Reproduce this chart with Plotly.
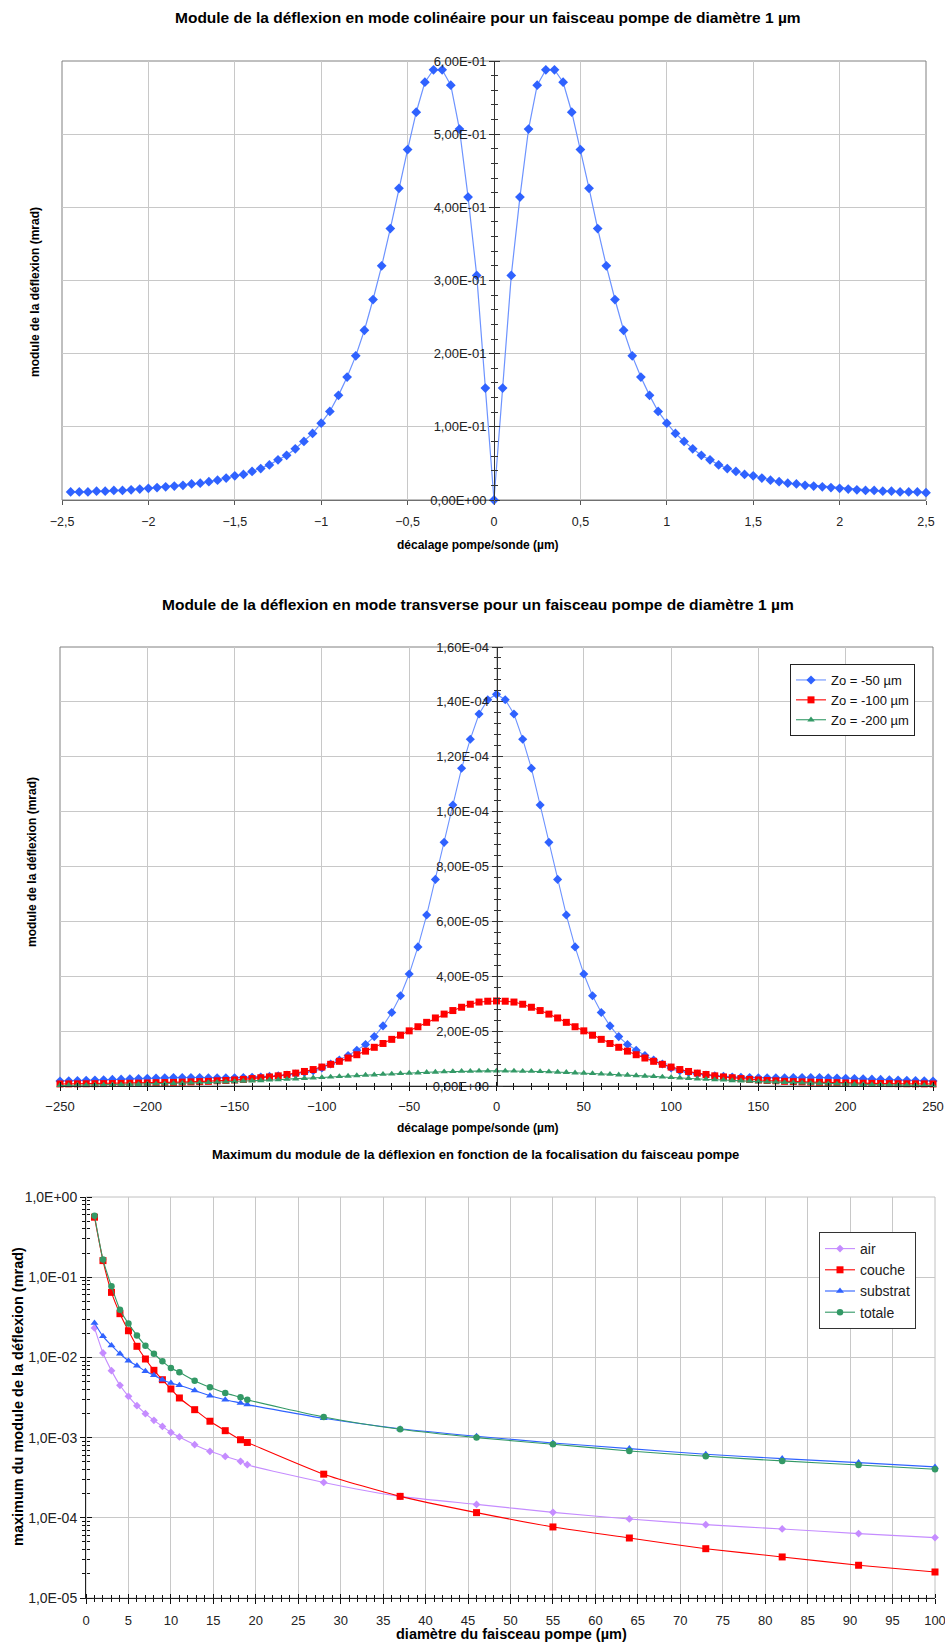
import plotly.graph_objects as go

W, H = 945, 1645


def px(x):
    return x / W


def py(y):
    return 1 - y / H


FONT = "Liberation Sans, Arial, Helvetica, sans-serif"

# ---------------- Chart 1 : colinear mode ----------------
X1 = [-2.45, -2.4, -2.35, -2.3, -2.25, -2.2, -2.15, -2.1, -2.05, -2.0,
      -1.95, -1.9, -1.85, -1.8, -1.75, -1.7, -1.65, -1.6, -1.55, -1.5,
      -1.45, -1.4, -1.35, -1.3, -1.25, -1.2, -1.15, -1.1, -1.05, -1.0,
      -0.95, -0.9, -0.85, -0.8, -0.75, -0.7, -0.65, -0.6, -0.55, -0.5,
      -0.45, -0.4, -0.35, -0.3, -0.25, -0.2, -0.15, -0.1, -0.05, 0.0,
      0.05, 0.1, 0.15, 0.2, 0.25, 0.3, 0.35, 0.4, 0.45, 0.5,
      0.55, 0.6, 0.65, 0.7, 0.75, 0.8, 0.85, 0.9, 0.95, 1.0,
      1.05, 1.1, 1.15, 1.2, 1.25, 1.3, 1.35, 1.4, 1.45, 1.5,
      1.55, 1.6, 1.65, 1.7, 1.75, 1.8, 1.85, 1.9, 1.95, 2.0,
      2.05, 2.1, 2.15, 2.2, 2.25, 2.3, 2.35, 2.4, 2.45, 2.5]
Y1 = [0.011, 0.011, 0.011, 0.012, 0.012, 0.013, 0.013, 0.014, 0.015, 0.016,
      0.017, 0.018, 0.019, 0.020, 0.022, 0.023, 0.025, 0.027, 0.030, 0.033,
      0.035, 0.039, 0.043, 0.048, 0.055, 0.061, 0.070, 0.080, 0.091, 0.105,
      0.121, 0.143, 0.168, 0.197, 0.232, 0.274, 0.320, 0.371, 0.426, 0.479,
      0.530, 0.571, 0.588, 0.588, 0.567, 0.507, 0.414, 0.307, 0.153, 0.0,
      0.153, 0.307, 0.414, 0.507, 0.567, 0.588, 0.588, 0.571, 0.530, 0.479,
      0.426, 0.371, 0.320, 0.274, 0.232, 0.197, 0.168, 0.143, 0.121, 0.105,
      0.091, 0.080, 0.070, 0.061, 0.055, 0.048, 0.043, 0.039, 0.035, 0.033,
      0.030, 0.027, 0.025, 0.023, 0.022, 0.020, 0.019, 0.018, 0.017, 0.016,
      0.015, 0.014, 0.013, 0.013, 0.012, 0.012, 0.011, 0.011, 0.011, 0.010]
X1_TICKS = [-2.5, -2, -1.5, -1, -0.5, 0, 0.5, 1, 1.5, 2, 2.5]
Y1_TICKS = [0, 0.1, 0.2, 0.3, 0.4, 0.5, 0.6]
Y1_TEXT = ["0,00E+00", "1,00E-01", "2,00E-01", "3,00E-01", "4,00E-01", "5,00E-01", "6,00E-01"]

# ---------------- Chart 2 : transverse mode (values in 1E-5 mrad) ----------------
X2 = [-250, -245, -240, -235, -230, -225, -220, -215, -210, -205,
      -200, -195, -190, -185, -180, -175, -170, -165, -160, -155,
      -150, -145, -140, -135, -130, -125, -120, -115, -110, -105,
      -100, -95, -90, -85, -80, -75, -70, -65, -60, -55,
      -50, -45, -40, -35, -30, -25, -20, -15, -10, -5, 0,
      5, 10, 15, 20, 25, 30, 35, 40, 45, 50,
      55, 60, 65, 70, 75, 80, 85, 90, 95, 100,
      105, 110, 115, 120, 125, 130, 135, 140, 145, 150,
      155, 160, 165, 170, 175, 180, 185, 190, 195, 200,
      205, 210, 215, 220, 225, 230, 235, 240, 245, 250]
ZO50 = [0.18, 0.19, 0.20, 0.21, 0.22, 0.23, 0.24, 0.25, 0.26, 0.27,
        0.28, 0.29, 0.30, 0.31, 0.31, 0.31, 0.31, 0.30, 0.30, 0.30,
        0.30, 0.31, 0.32, 0.33, 0.35, 0.37, 0.40, 0.44, 0.49, 0.56,
        0.66, 0.80, 0.95, 1.11, 1.30, 1.51, 1.80, 2.19, 2.68, 3.29,
        4.08, 5.07, 6.23, 7.53, 8.88, 10.24, 11.58, 12.64, 13.56, 14.08, 14.28,
        14.08, 13.56, 12.64, 11.58, 10.24, 8.88, 7.53, 6.23, 5.07, 4.08,
        3.29, 2.68, 2.19, 1.80, 1.51, 1.30, 1.11, 0.95, 0.80, 0.66,
        0.56, 0.49, 0.44, 0.40, 0.37, 0.35, 0.33, 0.32, 0.31, 0.30,
        0.30, 0.30, 0.30, 0.31, 0.31, 0.31, 0.31, 0.30, 0.29, 0.28,
        0.27, 0.26, 0.25, 0.24, 0.23, 0.22, 0.21, 0.20, 0.19, 0.18]
ZO100 = [0.075, 0.078, 0.08, 0.082, 0.085, 0.088, 0.09, 0.095, 0.10, 0.105,
         0.11, 0.12, 0.125, 0.13, 0.14, 0.15, 0.16, 0.17, 0.19, 0.20,
         0.22, 0.24, 0.27, 0.30, 0.33, 0.37, 0.42, 0.47, 0.53, 0.60,
         0.69, 0.79, 0.90, 1.02, 1.14, 1.27, 1.41, 1.55, 1.70, 1.85,
         2.01, 2.16, 2.32, 2.48, 2.62, 2.75, 2.87, 2.98, 3.06, 3.09, 3.10,
         3.09, 3.06, 2.98, 2.87, 2.75, 2.62, 2.48, 2.32, 2.16, 2.01,
         1.85, 1.70, 1.55, 1.41, 1.27, 1.14, 1.02, 0.90, 0.79, 0.69,
         0.60, 0.53, 0.47, 0.42, 0.37, 0.33, 0.30, 0.27, 0.24, 0.22,
         0.20, 0.19, 0.17, 0.16, 0.15, 0.14, 0.13, 0.125, 0.12, 0.11,
         0.105, 0.10, 0.095, 0.09, 0.088, 0.085, 0.082, 0.08, 0.078, 0.075]
ZO200 = [0.02, 0.025, 0.03, 0.03, 0.035, 0.04, 0.045, 0.05, 0.055, 0.06,
         0.07, 0.075, 0.08, 0.09, 0.10, 0.11, 0.12, 0.13, 0.14, 0.15,
         0.16, 0.18, 0.19, 0.20, 0.22, 0.23, 0.25, 0.26, 0.28, 0.30,
         0.31, 0.33, 0.35, 0.36, 0.38, 0.40, 0.41, 0.43, 0.44, 0.46,
         0.47, 0.48, 0.50, 0.51, 0.52, 0.53, 0.54, 0.54, 0.55, 0.55, 0.55,
         0.55, 0.55, 0.54, 0.54, 0.53, 0.52, 0.51, 0.50, 0.48, 0.47,
         0.46, 0.44, 0.43, 0.41, 0.40, 0.38, 0.36, 0.35, 0.33, 0.31,
         0.30, 0.28, 0.26, 0.25, 0.23, 0.22, 0.20, 0.19, 0.18, 0.16,
         0.15, 0.14, 0.13, 0.12, 0.11, 0.10, 0.09, 0.08, 0.075, 0.07,
         0.06, 0.055, 0.05, 0.045, 0.04, 0.035, 0.03, 0.03, 0.025, 0.02]
UNIT2 = 1e-5
X2_TICKS = [-250, -200, -150, -100, -50, 0, 50, 100, 150, 200, 250]
Y2_TICKS = [0, 2e-5, 4e-5, 6e-5, 8e-5, 1e-4, 1.2e-4, 1.4e-4, 1.6e-4]
Y2_TEXT = ["0,00E+00", "2,00E-05", "4,00E-05", "6,00E-05", "8,00E-05",
           "1,00E-04", "1,20E-04", "1,40E-04", "1,60E-04"]
NAMES2 = ["Zo = -50 µm", "Zo = -100 µm", "Zo = -200 µm"]

# ---------------- Chart 3 : maximum vs pump diameter ----------------
D3 = [1, 2, 3, 4, 5, 6, 7, 8, 9, 10, 11, 12.8, 14.6, 16.4, 18.2, 19,
      28, 37, 46, 55, 64, 73, 82, 91, 100]
AIR = [0.0233, 0.01135, 0.00684, 0.00449, 0.00327, 0.00250, 0.00199, 0.00164,
       0.00138, 0.00116, 0.00102, 0.000817, 0.000675, 0.000583, 0.000506,
       0.000459, 0.000276, 0.000185, 0.000147, 0.000117, 9.67e-5, 8.22e-5,
       7.26e-5, 6.35e-5, 5.66e-5]
COUCHE = [0.56, 0.161, 0.0647, 0.0351, 0.0215, 0.01375, 0.00955, 0.00690,
          0.00527, 0.00404, 0.00312, 0.00223, 0.00160, 0.00122, 0.00094,
          0.00087, 0.00035, 0.000185, 0.000116, 7.69e-5, 5.6e-5, 4.12e-5,
          3.25e-5, 2.56e-5, 2.11e-5]
SUBSTRAT = [0.0269, 0.0183, 0.0141, 0.0111, 0.0091, 0.00789, 0.00670, 0.00597,
            0.00527, 0.00480, 0.00449, 0.00388, 0.00333, 0.00297, 0.00270,
            0.00258, 0.00174, 0.00129, 0.00104, 0.000858, 0.000729, 0.000620,
            0.000547, 0.000488, 0.000431]
TOTALE = [0.585, 0.166, 0.0769, 0.0394, 0.0264, 0.0188, 0.0140, 0.0111,
          0.00893, 0.00738, 0.00652, 0.00513, 0.00424, 0.00360, 0.00318,
          0.00297, 0.00181, 0.00127, 0.00100, 0.000826, 0.000682, 0.000585,
          0.000512, 0.000456, 0.000403]
X3_TICKS = [0, 5, 10, 15, 20, 25, 30, 35, 40, 45, 50, 55, 60, 65, 70, 75, 80, 85, 90, 95, 100]
Y3_TICKS = [1e-5, 1e-4, 1e-3, 1e-2, 1e-1, 1]
Y3_TEXT = ["1,0E-05", "1,0E-04", "1,0E-03", "1,0E-02", "1,0E-01", "1,0E+00"]
Y3_MINOR = [m * 10 ** e for e in range(-5, 0) for m in range(2, 10)]

BLUE = "#2f62ff"
BLUE_LINE = "#6d93ff"
RED = "#ff0000"
GREEN = "#339966"
VIOLET = "#c58cff"
GRID = "#c8c8c8"
TICKC = "#333333"

# geometry (pixels)
C1 = dict(l=62, r=926, t=61, b=500)
C2 = dict(l=60, r=933, t=647, b=1086)
C3 = dict(l=86, r=935, t=1197, b=1598)

fig = go.Figure()

# chart 1 trace
fig.add_trace(go.Scatter(x=X1, y=Y1, mode="lines+markers", xaxis="x", yaxis="y",
                         line=dict(color=BLUE_LINE, width=1.2),
                         marker=dict(symbol="diamond", size=7.5, color=BLUE),
                         cliponaxis=False, showlegend=False, hoverinfo="skip"))

# chart 2 traces
for vals, name, col, lcol, sym, size in [(ZO50, NAMES2[0], BLUE, BLUE_LINE, "diamond", 7),
                                         (ZO100, NAMES2[1], RED, RED, "square", 7),
                                         (ZO200, NAMES2[2], GREEN, GREEN, "triangle-up", 6.5)]:
    fig.add_trace(go.Scatter(x=X2, y=[v * UNIT2 for v in vals], mode="lines+markers",
                             name=name, xaxis="x2", yaxis="y2", legend="legend",
                             line=dict(color=lcol, width=1.1),
                             marker=dict(symbol=sym, size=size, color=col),
                             cliponaxis=False, hoverinfo="skip"))

# chart 3 traces
for vals, name, col, sym, size in [(AIR, "air", VIOLET, "diamond", 6),
                                   (COUCHE, "couche", RED, "square", 7),
                                   (SUBSTRAT, "substrat", BLUE, "triangle-up", 7),
                                   (TOTALE, "totale", GREEN, "circle", 6.5)]:
    fig.add_trace(go.Scatter(x=D3, y=vals, mode="lines+markers", name=name,
                             xaxis="x3", yaxis="y3", legend="legend2",
                             line=dict(color=col, width=1.1, shape="spline", smoothing=0.6),
                             marker=dict(symbol=sym, size=size, color=col),
                             cliponaxis=False, hoverinfo="skip"))

# dummy traces binding the overlay tick axes
for xa, ya in [("x", "y4"), ("x2", "y5"), ("x4", "y2"), ("x3", "y6"), ("x5", "y3")]:
    fig.add_trace(go.Scatter(x=[None], y=[None], xaxis=xa, yaxis=ya, showlegend=False,
                             hoverinfo="skip", mode="markers"))

tick_font = lambda s: dict(family=FONT, size=s, color="#222222")

lay = dict(
    width=W, height=H, margin=dict(l=0, r=0, t=0, b=0, autoexpand=False),
    paper_bgcolor="white", plot_bgcolor="white",
    separators=", ", font=dict(family=FONT, color="#000000"),
)

# ---- chart 1 axes
c1mid = (C1["l"] + C1["r"]) / 2
lay["xaxis"] = dict(domain=[px(C1["l"]), px(C1["r"])], anchor="y", range=[-2.5, 2.5],
                    tickmode="array", tickvals=X1_TICKS, ticks="outside", ticklen=4,
                    tickcolor="#555555", showline=True, linecolor="#707070", linewidth=1,
                    showgrid=True, gridcolor=GRID, zeroline=False, tickfont=tick_font(12.5),
                    ticklabelstandoff=6, ticklabeloverflow="allow")
lay["yaxis"] = dict(domain=[py(C1["b"]), py(C1["t"])], anchor="free", position=px(c1mid),
                    range=[0, 0.6], tickmode="array", tickvals=Y1_TICKS, ticktext=Y1_TEXT,
                    ticks="outside", ticklen=5, tickcolor=TICKC,
                    minor=dict(ticks="outside", ticklen=3, dtick=0.02, tickcolor=TICKC, showgrid=False),
                    showline=True, linecolor=TICKC, showgrid=True, gridcolor=GRID,
                    zeroline=False, tickfont=tick_font(13))
lay["yaxis4"] = dict(overlaying="y", anchor="free", position=px(c1mid), side="right",
                     range=[0, 0.6], tickmode="array", tickvals=Y1_TICKS, ticks="outside",
                     ticklen=5, tickcolor=TICKC, showticklabels=False, showgrid=False,
                     minor=dict(ticks="outside", ticklen=3, dtick=0.02, tickcolor=TICKC, showgrid=False),
                     zeroline=False, showline=False)

# ---- chart 2 axes
c2mid = (C2["l"] + C2["r"]) / 2
lay["xaxis2"] = dict(domain=[px(C2["l"]), px(C2["r"])], anchor="y2", range=[-250, 250],
                     tickmode="array", tickvals=X2_TICKS, ticks="outside", ticklen=4,
                     tickcolor="#111111",
                     minor=dict(ticks="outside", ticklen=3, dtick=10, tick0=0, tickcolor="#111111", showgrid=False),
                     showline=True, linecolor="#222222", linewidth=1,
                     showgrid=True, gridcolor=GRID, zeroline=False, tickfont=tick_font(13),
                     ticklabelstandoff=4, ticklabeloverflow="allow")
lay["xaxis4"] = dict(overlaying="x2", anchor="free", position=py(C2["b"]), side="top",
                     range=[-250, 250], tickmode="array", tickvals=X2_TICKS, ticks="outside",
                     ticklen=4, tickcolor="#111111", showticklabels=False, showgrid=False,
                     minor=dict(ticks="outside", ticklen=3, dtick=10, tick0=0, tickcolor="#111111", showgrid=False),
                     zeroline=False, showline=False)
lay["yaxis2"] = dict(domain=[py(C2["b"]), py(C2["t"])], anchor="free", position=px(c2mid),
                     range=[0, 1.6e-4], tickmode="array", tickvals=Y2_TICKS, ticktext=Y2_TEXT,
                     ticks="outside", ticklen=5, tickcolor=TICKC,
                     minor=dict(ticks="outside", ticklen=3, dtick=4e-6, tick0=0, tickcolor=TICKC, showgrid=False),
                     showline=True, linecolor=TICKC, showgrid=True, gridcolor=GRID,
                     zeroline=False, tickfont=tick_font(13))
lay["yaxis5"] = dict(overlaying="y2", anchor="free", position=px(c2mid), side="right",
                     range=[0, 1.6e-4], tickmode="array", tickvals=Y2_TICKS, ticks="outside",
                     ticklen=5, tickcolor=TICKC, showticklabels=False, showgrid=False,
                     minor=dict(ticks="outside", ticklen=3, dtick=4e-6, tick0=0, tickcolor=TICKC, showgrid=False),
                     zeroline=False, showline=False)

# ---- chart 3 axes
lay["xaxis3"] = dict(domain=[px(C3["l"]), px(C3["r"])], anchor="y3", range=[0, 100],
                     tickmode="array", tickvals=X3_TICKS, ticks="outside", ticklen=5,
                     tickcolor="#111111",
                     minor=dict(ticks="outside", ticklen=3, dtick=1, tick0=0, tickcolor="#111111", showgrid=False),
                     showline=True, linecolor="#222222", showgrid=True, gridcolor=GRID,
                     zeroline=False, tickfont=tick_font(13),
                     ticklabelstandoff=5, ticklabeloverflow="allow")
lay["xaxis5"] = dict(overlaying="x3", anchor="free", position=py(C3["b"]), side="top",
                     range=[0, 100], tickmode="array", tickvals=X3_TICKS, ticks="outside",
                     ticklen=4, tickcolor="#111111", showticklabels=False, showgrid=False,
                     minor=dict(ticks="outside", ticklen=3, dtick=1, tick0=0, tickcolor="#111111", showgrid=False),
                     zeroline=False, showline=False)
lay["yaxis3"] = dict(domain=[py(C3["b"]), py(C3["t"])], anchor="x3", type="log", range=[-5, 0],
                     tickmode="array", tickvals=Y3_TICKS, ticktext=Y3_TEXT,
                     ticks="outside", ticklen=5, tickcolor="#111111",
                     minor=dict(ticks="outside", ticklen=3, tickmode="array", tickvals=Y3_MINOR,
                                tickcolor="#111111", showgrid=False),
                     showline=True, linecolor="#222222", showgrid=True, gridcolor=GRID,
                     zeroline=False, tickfont=tick_font(14), ticklabeloverflow="allow")
lay["yaxis6"] = dict(overlaying="y3", anchor="free", position=px(C3["l"]), side="right",
                     type="log", range=[-5, 0], tickmode="array", tickvals=Y3_TICKS,
                     ticks="outside", ticklen=5, tickcolor="#111111", showticklabels=False,
                     showgrid=False,
                     minor=dict(ticks="outside", ticklen=3, tickmode="array", tickvals=Y3_MINOR,
                                tickcolor="#111111", showgrid=False),
                     zeroline=False, showline=False)

# legends
lay["legend"] = dict(x=px(790), y=py(664), xanchor="left", yanchor="top",
                     bgcolor="white", bordercolor="#222222", borderwidth=1,
                     font=dict(family=FONT, size=13, color="#111111"),
                     tracegroupgap=0, itemwidth=30)
lay["legend2"] = dict(x=px(819), y=py(1232), xanchor="left", yanchor="top",
                      bgcolor="white", bordercolor="#333333", borderwidth=1,
                      font=dict(family=FONT, size=14, color="#222222"),
                      tracegroupgap=0, itemwidth=30)

fig.update_layout(**lay)

# plot-area frames
shapes = []
for xr, yr, col in [("x", "y", "#808080"), ("x2", "y2", "#808080"), ("x3", "y3", "#c0c0c0")]:
    shapes.append(dict(type="rect", xref=f"{xr} domain", yref=f"{yr} domain",
                       x0=0, x1=1, y0=0, y1=1, line=dict(color=col, width=1), layer="below"))
fig.update_layout(shapes=shapes)

# titles as annotations
ann = []


def add_text(text, x, y, size, angle=0):
    ann.append(dict(text=text, x=px(x), y=py(y), xref="paper", yref="paper",
                    showarrow=False, textangle=angle, xanchor="center", yanchor="middle",
                    font=dict(family=FONT, size=size, color="#000000")))


add_text("<b>Module de la déflexion en mode colinéaire pour un faisceau pompe de diamètre 1 µm</b>", 488, 18, 15.5)
add_text("<b>décalage pompe/sonde (µm)</b>", 478, 545, 12)
add_text("<b>module de la déflexion (mrad)</b>", 35, 292, 12, -90)
add_text("<b>Module de la déflexion en mode transverse pour un faisceau pompe de diamètre 1 µm</b>", 478, 604, 15.5)
add_text("<b>décalage pompe/sonde (µm)</b>", 478, 1128, 12)
add_text("<b>module de la déflexion (mrad)</b>", 32, 862, 12, -90)
add_text("<b>Maximum du module de la déflexion en fonction de la focalisation du faisceau pompe</b>", 476, 1154, 13)
add_text("<b>diamètre du faisceau pompe (µm)</b>", 511, 1634, 14.5)
add_text("<b>maximum du module de la déflexion (mrad)</b>", 18, 1397, 14.5, -90)
fig.update_layout(annotations=ann)

fig.write_html("out.html", config={"displayModeBar": False},
               post_script="document.body.style.margin='0';document.body.style.padding='0';"
                           "document.documentElement.style.overflow='hidden';")
